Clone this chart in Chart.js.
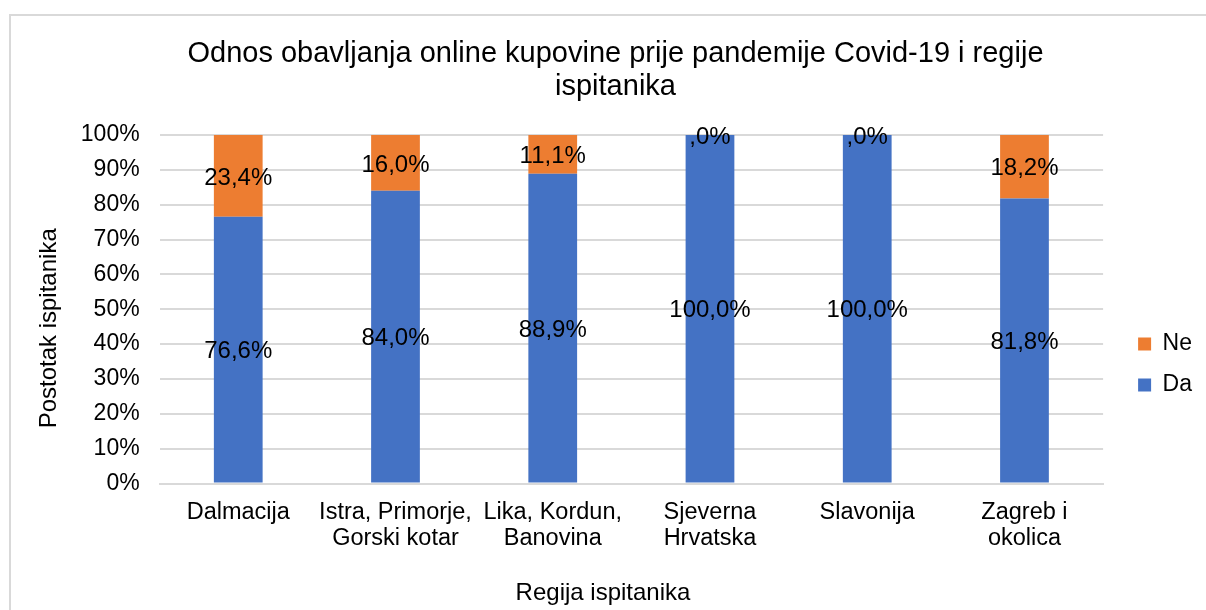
<!DOCTYPE html>
<html>
<head>
<meta charset="utf-8">
<script src="https://cdn.jsdelivr.net/npm/chart.js@4"></script>
<style>
  html, body { margin: 0; padding: 0; background: #fff; }
  #wrap { position: relative; width: 1206px; height: 610px; overflow: hidden; }
  #frame { position: absolute; left: 9px; top: 14px; width: 1220px; height: 620px; border: 2px solid #d9d9d9; box-sizing: border-box; }
  canvas { position: absolute; left: 0; top: 0; }
</style>
</head>
<body>
<div id="wrap">
  <div id="frame"></div>
  <canvas id="chart" width="1206" height="610"></canvas>
</div>
<script>
// Regions (x categories) and answer shares in percent
const regions = [
    'Dalmacija',
    ['Istra, Primorje,', 'Gorski kotar'],
    ['Lika, Kordun,', 'Banovina'],
    ['Sjeverna', 'Hrvatska'],
    'Slavonija',
    ['Zagreb i', 'okolica'],
];
const daValues = [76.6, 84.0, 88.9, 100.0, 100.0, 81.8];
const neValues = [23.4, 16.0, 11.1, 0.0, 0.0, 18.2];
const yTicks = [0, 10, 20, 30, 40, 50, 60, 70, 80, 90, 100];

const xTitle = 'Regija ispitanika';
const yTitle = 'Postotak ispitanika';

const font = 'Liberation Sans, Arial, sans-serif';

// Excel style label: 0 shows as ",0%"
function fmtPct(v) {
    if (v === 0) return ',0%';
    return v.toFixed(1).replace('.', ',') + '%';
}

// Draw value labels in the middle of each stacked segment
const segmentLabels = {
    id: 'segmentLabels',
    afterDatasetsDraw(chart) {
        const ctx = chart.ctx;
        ctx.save();
        ctx.font = '24px ' + font;
        ctx.fillStyle = '#000';
        ctx.textAlign = 'center';
        ctx.textBaseline = 'middle';
        chart.data.datasets.forEach((ds, di) => {
            const meta = chart.getDatasetMeta(di);
            meta.data.forEach((bar, i) => {
                const v = ds.data[i];
                const y = (bar.y + bar.base) / 2;
                ctx.fillText(fmtPct(v), bar.x, y + 2);
            });
        });
        ctx.restore();
    },
};

// Legend and title sit a bit off from where Chart.js puts them
const boxShift = {
    id: 'boxShift',
    afterLayout(chart) {
        const lg = chart.legend;
        lg.top += 40; lg.bottom += 40;
        lg.left += 17; lg.right += 17;
        const tb = chart.titleBlock;
        tb.left += 9; tb.right += 9;
    },
};

// Axis titles centred like the original (scale titles only reserve space)
const axisTitles = {
    id: 'axisTitles',
    afterDraw(chart) {
        const ctx = chart.ctx;
        const area = chart.chartArea;
        ctx.save();
        ctx.font = '24px ' + font;
        ctx.fillStyle = '#000';
        ctx.textAlign = 'center';
        ctx.textBaseline = 'middle';
        ctx.fillText(xTitle, chart.width / 2, chart.height - 17);
        ctx.translate(49, (area.top + area.bottom) / 2 + 19);
        ctx.rotate(-Math.PI / 2);
        ctx.fillText(yTitle, 0, 0);
        ctx.restore();
    },
};

new Chart(document.getElementById('chart').getContext('2d'), {
    type: 'bar',
    data: {
        labels: regions,
        datasets: [
            { label: 'Da', data: daValues, backgroundColor: '#4472c4' },
            { label: 'Ne', data: neValues, backgroundColor: '#ed7d31' },
        ],
    },
    options: {
        responsive: false,
        animation: false,
        devicePixelRatio: 1,
        layout: { padding: { left: 28, right: 21, top: 35, bottom: -4 } },
        datasets: { bar: { categoryPercentage: 1, barPercentage: 0.31 } },
        plugins: {
            title: {
                display: true,
                text: ['Odnos obavljanja online kupovine prije pandemije Covid-19 i regije', 'ispitanika'],
                color: '#000',
                font: { family: font, size: 29, weight: 'normal', lineHeight: 1.14 },
                padding: { top: 2, bottom: 32 },
            },
            legend: {
                position: 'right',
                reverse: true,
                labels: {
                    color: '#000',
                    font: { family: font, size: 23 },
                    boxWidth: 13,
                    boxHeight: 13,
                    padding: 18,
                },
            },
            tooltip: { enabled: false },
        },
        scales: {
            x: {
                stacked: true,
                grid: { display: false },
                border: { color: '#d9d9d9', width: 2 },
                ticks: { color: '#000', font: { family: font, size: 23.5, lineHeight: 1.1 }, maxRotation: 0, autoSkip: false, padding: 8 },
                title: { display: true, text: xTitle, color: 'rgba(0,0,0,0)', font: { family: font, size: 24 }, padding: { top: 22 } },
            },
            y: {
                stacked: true,
                min: 0,
                max: 100,
                grid: { color: '#d9d9d9', lineWidth: 2, drawTicks: false },
                border: { display: false },
                afterBuildTicks: (axis) => { axis.ticks = yTicks.map(v => ({ value: v })); },
                ticks: { color: '#000', font: { family: font, size: 23 }, padding: 20, callback: v => v + '%' },
                title: { display: true, text: yTitle, color: 'rgba(0,0,0,0)', font: { family: font, size: 24 }, padding: { bottom: 0 } },
            },
        },
    },
    plugins: [segmentLabels, boxShift, axisTitles],
});
</script>
</body>
</html>
